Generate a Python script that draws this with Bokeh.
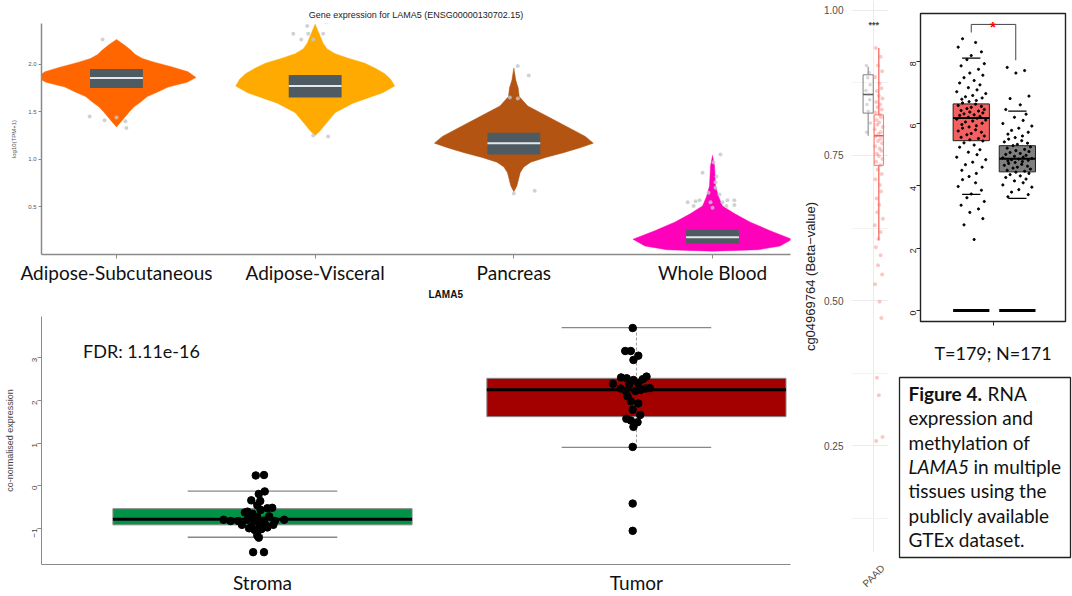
import math
from bokeh.plotting import figure
from bokeh.layouts import row, column
from bokeh.models import Range1d, FixedTicker, Label, Title
from bokeh.embed import file_html
from bokeh.resources import INLINE
from bokeh.core.properties import value

SANS = "Lato"
ARIAL = "Liberation Sans"

# ---------------- data: GTEx violins ----------------
tissues = ["Adipose-Subcutaneous", "Adipose-Visceral", "Pancreas", "Whole Blood"]
tissue_colors = ["#FF6600", "#FFAA00", "#B35412", "#FF00BB"]
violin_y = [
    [1.34, 1.40, 1.45, 1.50, 1.55, 1.60, 1.66, 1.71, 1.76, 1.81, 1.86, 1.92, 1.97, 2.02, 2.06, 2.10, 2.15, 2.20, 2.26],
    [1.25, 1.30, 1.39, 1.49, 1.59, 1.70, 1.77, 1.84, 1.90, 1.96, 2.01, 2.06, 2.11, 2.16, 2.22, 2.32, 2.42],
    [0.66, 0.72, 0.76, 0.86, 0.92, 0.97, 1.02, 1.07, 1.12, 1.17, 1.24, 1.34, 1.45, 1.56, 1.66, 1.75, 1.83, 1.96],
    [0.035, 0.05, 0.09, 0.16, 0.25, 0.34, 0.43, 0.51, 0.61, 0.72, 0.85, 0.93, 1.04],
]
violin_hw = [
    [0.0, 0.025, 0.045, 0.065, 0.087, 0.12, 0.155, 0.21, 0.26, 0.355, 0.40, 0.36, 0.28, 0.19, 0.13, 0.095, 0.07, 0.04, 0.0],
    [0.0, 0.025, 0.06, 0.10, 0.19, 0.34, 0.40, 0.38, 0.35, 0.30, 0.25, 0.17, 0.10, 0.06, 0.04, 0.02, 0.0],
    [0.0, 0.015, 0.02, 0.032, 0.05, 0.085, 0.16, 0.25, 0.33, 0.40, 0.36, 0.27, 0.17, 0.07, 0.027, 0.022, 0.01, 0.0],
    [0.0, 0.23, 0.34, 0.40, 0.29, 0.19, 0.11, 0.05, 0.03, 0.015, 0.012, 0.01, 0.0],
]
gtex_q1 = [1.75, 1.65, 1.05, 0.115]
gtex_med = [1.855, 1.77, 1.17, 0.18]
gtex_q3 = [1.95, 1.885, 1.28, 0.26]
gtex_out_tissue = [1, 1, 1, 1, 1, 1,
                   2, 2, 2, 2, 2, 2, 2, 2, 2,
                   3, 3, 3, 3, 3, 3,
                   4, 4, 4, 4, 4, 4, 4, 4, 4, 4, 4, 4, 4, 4, 4, 4, 4, 4, 4]
gtex_out_dx = [-0.07, -0.135, -0.06, 0.0, 0.045, 0.05,
               -0.11, -0.04, -0.035, -0.07, -0.01, 0.04, 0.055, -0.01, 0.065,
               0.02, 0.075, -0.02, 0.02, 0.0, 0.105,
               0.04, 0.005, -0.05, 0.02, 0.015, 0.015, -0.02, 0.035, -0.125, -0.085,
               -0.065, -0.095, -0.01, 0.05, 0.075, 0.11, 0.11, 0.07, 0.0]
gtex_out_val = [2.26, 1.45, 1.41, 1.44, 1.40, 1.33,
                2.32, 2.40, 2.32, 2.26, 2.26, 2.32, 2.44, 1.25, 1.24,
                1.98, 1.88, 1.65, 1.64, 0.64, 0.67,
                1.05, 0.97, 0.86, 0.82, 0.76, 0.70, 0.65, 0.63, 0.55, 0.56,
                0.57, 0.51, 0.55, 0.55, 0.57, 0.57, 0.52, 0.51, 0.49]
gtex_title = "Gene expression for LAMA5 (ENSG00000130702.15)"
gtex_gene = "LAMA5"

# ---------------- data: Stroma / Tumor ----------------
groups = ["Stroma", "Tumor"]
grp_colors = ["#009347", "#A30000"]
grp_q1 = [-0.92, 1.62]
grp_med = [-0.79, 2.25]
grp_q3 = [-0.54, 2.52]
grp_lo = [-1.21, 0.90]
grp_hi = [-0.13, 3.71]
stroma_dx = [-0.008, 0.014, 0.0, 0.016, -0.02, 0.004, -0.004, 0.023, 0.036, 0.005, -0.03, -0.017,
             -0.037, -0.004, 0.028, -0.094, -0.075, -0.055, -0.03, -0.011, 0.014, 0.043, 0.068,
             -0.045, -0.02, 0.001, 0.02, 0.039, -0.026, -0.011, 0.007, 0.023, -0.004, 0.0, -0.015, 0.014]
stroma_val = [0.24, 0.25, -0.195, -0.135, -0.345, -0.36, -0.46, -0.53, -0.52, -0.57, -0.61, -0.66,
              -0.63, -0.73, -0.72, -0.80, -0.83, -0.83, -0.80, -0.83, -0.82, -0.83, -0.80,
              -0.92, -0.97, -0.90, -0.94, -0.92, -1.00, -1.04, -1.02, -0.98, -1.17, -1.22, -1.56, -1.56]
tumor_dx = [0.0, -0.02, -0.005, 0.015, 0.002, -0.031, -0.016, 0.002, 0.027, 0.037, -0.053, -0.009,
            0.015, -0.032, -0.018, 0.007, 0.022, 0.035, 0.046, -0.014, -0.005, 0.015, 0.0, 0.02,
            -0.017, -0.005, 0.013, 0.002, 0.0, 0.0, 0.0]
tumor_val = [3.70, 3.16, 3.16, 3.05, 2.95, 2.54, 2.52, 2.48, 2.50, 2.56, 2.39, 2.38,
             2.40, 2.28, 2.22, 2.22, 2.25, 2.28, 2.29, 2.10, 1.98, 1.93, 1.78, 1.66,
             1.57, 1.53, 1.49, 1.38, 0.91, -0.42, -1.06]
fdr_text = "FDR: 1.11e-16"

# ---------------- data: methylation (PAAD) ----------------
meth_cats = ["PAAD"]
meth_n_box = dict(lo=0.784, q1=0.823, med=0.855, q3=0.889, hi=0.903)
meth_t_box = dict(lo=0.604, q1=0.733, med=0.784, q3=0.82, hi=0.935)
meth_t_val = [0.935, 0.92, 0.905, 0.895, 0.885, 0.874, 0.866, 0.861, 0.853, 0.848, 0.842, 0.838,
              0.833, 0.829, 0.824, 0.82, 0.816, 0.811, 0.807, 0.803, 0.799, 0.795, 0.79, 0.787,
              0.783, 0.779, 0.775, 0.771, 0.766, 0.762, 0.758, 0.753, 0.749, 0.744, 0.739, 0.733,
              0.726, 0.718, 0.709, 0.699, 0.688, 0.676, 0.665, 0.652, 0.641, 0.63, 0.618, 0.606,
              0.592, 0.578, 0.561, 0.545, 0.528, 0.498, 0.47, 0.367, 0.337, 0.265, 0.258]
meth_n_val = [0.905, 0.893, 0.884, 0.872, 0.862, 0.855, 0.846, 0.838, 0.826, 0.806, 0.79]
meth_jit = [-0.08, 0.05, -0.02, 0.09, -0.1, 0.02, 0.07, -0.05, 0.0, 0.1, -0.07, 0.04,
            -0.03, 0.08, -0.09, 0.03, 0.06, -0.06, 0.01, -0.04, 0.11, -0.11, 0.05, -0.01]
meth_sig = "***"
meth_ylabel = "cg04969764 (Beta\u2212value)"

# ---------------- data: GEPIA boxplot ----------------
gepia_label = "T=179; N=171"
gepia_t_box = dict(lo=3.73, q1=5.45, med=6.18, q3=6.63, hi=8.1)
gepia_n_box = dict(lo=3.6, q1=4.45, med=4.87, q3=5.29, hi=6.4)
gepia_t_val = [8.72, 8.6, 8.45, 8.3, 8.18, 8.05, 7.92, 7.85, 7.74, 7.62, 7.55, 7.47, 7.38, 7.3,
               7.24, 7.15, 7.08, 7.02, 6.96, 6.9, 6.86, 6.82, 6.78, 6.74, 6.7, 6.66, 6.62, 6.58,
               6.55, 6.52, 6.48, 6.45, 6.42, 6.4, 6.37, 6.34, 6.31, 6.28, 6.26, 6.23, 6.2, 6.17,
               6.14, 6.11, 6.08, 6.05, 6.01, 5.97, 5.93, 5.89, 5.85, 5.8, 5.76, 5.72, 5.68, 5.64,
               5.6, 5.56, 5.52, 5.48, 5.44, 5.38, 5.31, 5.24, 5.16, 5.08, 5.0, 4.92, 4.84, 4.76,
               4.68, 4.6, 4.5, 4.4, 4.3, 4.2, 4.1, 3.98, 3.86, 3.74, 3.62, 3.5, 3.38, 3.26, 3.15,
               2.95, 2.75, 2.28]
gepia_n_val = [7.8, 7.7, 7.62, 6.88, 6.8, 6.6, 6.45, 6.3, 6.2, 6.1, 6.0, 5.92, 5.85, 5.78, 5.72,
               5.66, 5.6, 5.55, 5.5, 5.45, 5.41, 5.37, 5.33, 5.29, 5.25, 5.21, 5.17, 5.13, 5.1,
               5.07, 5.04, 5.01, 4.98, 4.95, 4.92, 4.9, 4.88, 4.86, 4.84, 4.82, 4.8, 4.78, 4.75,
               4.72, 4.69, 4.66, 4.63, 4.6, 4.57, 4.54, 4.5, 4.47, 4.44, 4.4, 4.36, 4.32, 4.27,
               4.22, 4.16, 4.1, 4.03, 3.96, 3.88, 3.8, 3.72, 3.65]
gepia_jit = [-0.06, 0.03, -0.09, 0.07, 0.0, -0.03, 0.09, -0.07, 0.05, -0.01, 0.08, -0.05, 0.02,
             -0.08, 0.06, -0.02, 0.04, -0.1, 0.1, 0.01, -0.04, 0.075, -0.065, 0.035, -0.015]
gepia_sig = "*"

# ---------------- data: caption ----------------
caption_lines = ["Figure 4. RNA", "expression and", "methylation of", "LAMA5 in multiple",
                 "tissues using the", "publicly available", "GTEx dataset."]


def base_fig(**kw):
    p = figure(output_backend="svg", toolbar_location=None, **kw)
    p.background_fill_color = "white"
    p.border_fill_color = "white"
    p.outline_line_color = None
    p.xgrid.grid_line_color = None
    p.ygrid.grid_line_color = None
    return p


# ================= Violin panel =================
pv = base_fig(width=800, height=300, x_range=Range1d(0.6226, 4.3925), y_range=Range1d(0, 2.427),
              min_border_left=41, min_border_right=10, min_border_top=23, min_border_bottom=44)
pv.title.text = gtex_title
pv.title.align = "center"
pv.title.text_font = ARIAL
pv.title.text_font_size = "9px"
pv.title.text_font_style = "normal"
pv.title.text_color = "#222222"
pv.title.standoff = 8
for i in range(4):
    c = i + 1
    ys = violin_y[i] + violin_y[i][::-1]
    xs = [c + h for h in violin_hw[i]] + [c - h for h in violin_hw[i][::-1]]
    pv.patch(xs, ys, fill_color=tissue_colors[i], line_color=tissue_colors[i], line_width=0.5)
pv.quad(left=[c - 0.133 for c in range(1, 5)], right=[c + 0.133 for c in range(1, 5)],
        bottom=gtex_q1, top=gtex_q3, fill_color="#4E5B62", line_color=None)
pv.segment(x0=[c - 0.133 for c in range(1, 5)], x1=[c + 0.133 for c in range(1, 5)],
           y0=gtex_med, y1=gtex_med, line_color="#E4E8EA", line_width=2)
pv.scatter([t + d for t, d in zip(gtex_out_tissue, gtex_out_dx)], gtex_out_val, size=4,
           fill_color="#C4C8CC", line_color=None, fill_alpha=0.8)
pv.yaxis.ticker = FixedTicker(ticks=[0.5, 1.0, 1.5, 2.0])
pv.yaxis.major_label_overrides = {0.5: "0.5", 1.0: "1.0", 1.5: "1.5", 2.0: "2.0"}
pv.yaxis.major_label_text_font = ARIAL
pv.yaxis.major_label_text_font_size = "6px"
pv.yaxis.major_label_text_color = "#555555"
pv.yaxis.axis_label = "log10(TPM+1)"
pv.yaxis.axis_label_text_font = ARIAL
pv.yaxis.axis_label_text_font_size = "6px"
pv.yaxis.axis_label_text_font_style = "normal"
pv.yaxis.axis_label_text_color = "#555555"
pv.yaxis.axis_label_standoff = 8
pv.yaxis.axis_line_color = "#8A8A8A"
pv.yaxis.axis_line_width = 1.5
pv.yaxis.major_tick_line_color = "#8A8A8A"
pv.yaxis.major_tick_out = 3
pv.yaxis.major_tick_in = 0
pv.yaxis.minor_tick_line_color = None
pv.yaxis.major_label_standoff = 2
pv.xaxis.ticker = FixedTicker(ticks=[1, 2, 3, 4])
pv.xaxis.major_label_overrides = {i + 1: t for i, t in enumerate(tissues)}
pv.xaxis.major_label_text_font = SANS
pv.xaxis.major_label_text_font_size = "19px"
pv.xaxis.major_label_text_color = "#111111"
pv.xaxis.axis_line_color = "#8A8A8A"
pv.xaxis.axis_line_width = 1.5
pv.xaxis.major_tick_line_color = "#8A8A8A"
pv.xaxis.major_tick_out = 4
pv.xaxis.major_tick_in = 0
pv.xaxis.minor_tick_line_color = None
pv.xaxis.major_label_standoff = 2
pv.add_layout(Title(text=gtex_gene, align="left", offset=387, text_font=ARIAL, text_font_size="10px",
                    text_font_style="bold", text_color="#111111", standoff=1), "below")

# ================= Stroma / Tumor panel =================
pb = base_fig(width=800, height=296, x_range=Range1d(0.409, 2.412), y_range=Range1d(-1.85, 3.97),
              min_border_left=41, min_border_right=10, min_border_top=16, min_border_bottom=21)
gx = [1, 2]
pb.segment(x0=gx, x1=gx, y0=grp_hi, y1=grp_q3, line_color="#9A9A9A", line_dash="3 2", line_width=1)
pb.segment(x0=gx, x1=gx, y0=grp_lo, y1=grp_q1, line_color="#9A9A9A", line_dash="3 2", line_width=1)
pb.segment(x0=[x - 0.2 for x in gx], x1=[x + 0.2 for x in gx], y0=grp_hi, y1=grp_hi,
           line_color="#888888", line_width=1.3)
pb.segment(x0=[x - 0.2 for x in gx], x1=[x + 0.2 for x in gx], y0=grp_lo, y1=grp_lo,
           line_color="#888888", line_width=1.3)
pb.quad(left=[x - 0.4 for x in gx], right=[x + 0.4 for x in gx], bottom=grp_q1, top=grp_q3,
        fill_color=grp_colors, line_color="#8A8A8A", line_width=1)
pb.segment(x0=[x - 0.4 for x in gx], x1=[x + 0.4 for x in gx], y0=grp_med, y1=grp_med,
           line_color="black", line_width=3)
pb.scatter([0.99 + d for d in stroma_dx], stroma_val, size=7.5, color="black")
pb.scatter([1.99 + d for d in tumor_dx], tumor_val, size=7.5, color="black")
pb.add_layout(Label(x=0.52, y=3.15, text=fdr_text, text_font=SANS, text_font_size="18px",
                    text_baseline="middle", text_color="#111111"))
pb.yaxis.ticker = FixedTicker(ticks=[-1, 0, 1, 2, 3])
pb.yaxis.major_label_orientation = math.pi / 2
pb.yaxis.major_label_text_font = ARIAL
pb.yaxis.major_label_text_font_size = "8px"
pb.yaxis.major_label_text_color = "#444444"
pb.yaxis.axis_line_color = "#8A8A8A"
pb.yaxis.major_tick_line_color = "#8A8A8A"
pb.yaxis.major_tick_out = 4
pb.yaxis.major_tick_in = 0
pb.yaxis.minor_tick_line_color = None
pb.yaxis.major_label_standoff = 3
pb.yaxis.axis_label = "co-normalised expression"
pb.yaxis.axis_label_text_font = ARIAL
pb.yaxis.axis_label_text_font_size = "9px"
pb.yaxis.axis_label_text_font_style = "normal"
pb.yaxis.axis_label_text_color = "#444444"
pb.yaxis.axis_label_standoff = 12
pb.xaxis.ticker = FixedTicker(ticks=gx)
pb.xaxis.major_label_overrides = {1: groups[0], 2: groups[1]}
pb.xaxis.major_label_text_font = SANS
pb.xaxis.major_label_text_font_size = "19px"
pb.xaxis.major_label_text_color = "#111111"
pb.xaxis.axis_line_color = "#8A8A8A"
pb.xaxis.axis_line_width = 1.2
pb.xaxis.major_tick_line_color = None
pb.xaxis.minor_tick_line_color = None
pb.xaxis.major_label_standoff = 0

# ================= Methylation panel =================
pm = base_fig(width=92, height=596, x_range=Range1d(0.4, 1.4), y_range=Range1d(0.066, 1.017),
              min_border_left=48, min_border_right=4, min_border_top=0, min_border_bottom=38)
pm.ygrid.ticker = FixedTicker(ticks=[0.25, 0.5, 0.75, 1.0], minor_ticks=[0.125, 0.375, 0.625, 0.875])
pm.ygrid.grid_line_color = "#EBEBEB"
pm.ygrid.minor_grid_line_color = "#F3F3F3"
pm.xgrid.ticker = FixedTicker(ticks=[1.0])
pm.xgrid.grid_line_color = "#EBEBEB"
nx, nw = 0.85, 0.275
tx, tw = 1.1375, 0.25
pm.segment(x0=[nx, nx], x1=[nx, nx], y0=[meth_n_box["lo"], meth_n_box["q3"]],
           y1=[meth_n_box["q1"], meth_n_box["hi"]], line_color="#7F7F7F", line_width=1)
pm.quad(left=nx - nw / 2, right=nx + nw / 2, bottom=meth_n_box["q1"], top=meth_n_box["q3"],
        fill_color="white", fill_alpha=0.0, line_color="#7F7F7F", line_width=1)
pm.segment(x0=nx - nw / 2, x1=nx + nw / 2, y0=meth_n_box["med"], y1=meth_n_box["med"],
           line_color="#5A5A5A", line_width=1.6)
pm.scatter([nx + meth_jit[i % len(meth_jit)] * 0.6 for i in range(len(meth_n_val))], meth_n_val,
           size=3.5, fill_color="#9A9A9A", line_color=None, fill_alpha=0.4)
pm.segment(x0=[tx, tx], x1=[tx, tx], y0=[meth_t_box["lo"], meth_t_box["q3"]],
           y1=[meth_t_box["q1"], meth_t_box["hi"]], line_color="#F8766D", line_width=1.4)
pm.quad(left=tx - tw / 2, right=tx + tw / 2, bottom=meth_t_box["q1"], top=meth_t_box["q3"],
        fill_color="white", fill_alpha=0.0, line_color="#F8766D", line_width=1)
pm.segment(x0=tx - tw / 2, x1=tx + tw / 2, y0=meth_t_box["med"], y1=meth_t_box["med"],
           line_color="#E8504A", line_width=1.6)
pm.scatter([tx + meth_jit[i % len(meth_jit)] for i in range(len(meth_t_val))], meth_t_val,
           size=4, fill_color="#F8766D", line_color=None, fill_alpha=0.4)
pm.add_layout(Label(x=1.0, y=0.975, text=meth_sig, text_font=ARIAL, text_font_size="9px",
                    text_font_style="bold", text_align="center", text_baseline="middle"))
pm.yaxis.ticker = FixedTicker(ticks=[0.25, 0.5, 0.75, 1.0])
pm.yaxis.major_label_overrides = {0.25: "0.25", 0.5: "0.50", 0.75: "0.75", 1.0: "1.00"}
pm.yaxis.major_label_text_font = ARIAL
pm.yaxis.major_label_text_font_size = "10px"
pm.yaxis.major_label_text_color = "#4D4D4D"
pm.yaxis.axis_line_color = None
pm.yaxis.major_tick_line_color = None
pm.yaxis.minor_tick_line_color = None
pm.yaxis.major_label_standoff = 2
pm.yaxis.axis_label = meth_ylabel
pm.yaxis.axis_label_text_font = ARIAL
pm.yaxis.axis_label_text_font_size = "13px"
pm.yaxis.axis_label_text_font_style = "normal"
pm.yaxis.axis_label_text_color = "#222222"
pm.yaxis.axis_label_standoff = 3
pm.xaxis.ticker = FixedTicker(ticks=[1.25])
pm.xaxis.major_label_overrides = {1.25: meth_cats[0]}
pm.xaxis.major_label_orientation = math.pi / 4
pm.xaxis.major_label_text_font = ARIAL
pm.xaxis.major_label_text_font_size = "10px"
pm.xaxis.major_label_text_color = "#4D4D4D"
pm.xaxis.axis_line_color = None
pm.xaxis.major_tick_line_color = None
pm.xaxis.minor_tick_line_color = None
pm.xaxis.major_label_standoff = 8

# ================= GEPIA panel =================
pg = base_fig(width=180, height=366, x_range=Range1d(0.5, 1.5), y_range=Range1d(-0.35, 9.53),
              min_border_left=28, min_border_right=7, min_border_top=13, min_border_bottom=43)
pg.outline_line_color = "#222222"
pg.outline_line_width = 1.4
gtx, gnx, gbw, gcw = 0.85, 1.168, 0.25, 0.126
for cx, bx, col in [(gtx, gepia_t_box, "#F4605F"), (gnx, gepia_n_box, "#7F7F7F")]:
    pg.quad(left=cx - gbw / 2, right=cx + gbw / 2, bottom=bx["q1"], top=bx["q3"],
            fill_color=col, line_color="#222222", line_width=1)
    pg.segment(x0=cx - gbw / 2, x1=cx + gbw / 2, y0=bx["med"], y1=bx["med"],
               line_color="black", line_width=2)
    pg.segment(x0=[cx - gcw / 2] * 2, x1=[cx + gcw / 2] * 2, y0=[bx["lo"], bx["hi"]],
               y1=[bx["lo"], bx["hi"]], line_color="black", line_width=1.2)
    pg.segment(x0=cx - gbw / 2, x1=cx + gbw / 2, y0=0, y1=0, line_color="black", line_width=3)
pg.scatter([gtx + gepia_jit[i % len(gepia_jit)] for i in range(len(gepia_t_val))], gepia_t_val,
           size=2.2, color="black")
pg.scatter([gnx + gepia_jit[(i + 7) % len(gepia_jit)] for i in range(len(gepia_n_val))], gepia_n_val,
           size=2.2, color="black")
pg.multi_line(xs=[[gtx, gtx, gnx - 0.011, gnx - 0.011]], ys=[[8.92, 9.18, 9.18, 8.03]],
              line_color="#444444", line_width=1)
pg.add_layout(Label(x=1.0, y=9.1, text=gepia_sig, text_font=ARIAL, text_font_size="15px",
                    text_font_style="bold", text_align="center", text_baseline="middle",
                    text_color="#FF0000"))
pg.yaxis.ticker = FixedTicker(ticks=[0, 2, 4, 6, 8])
pg.yaxis.major_label_orientation = math.pi / 2
pg.yaxis.major_label_text_font = ARIAL
pg.yaxis.major_label_text_font_size = "9px"
pg.yaxis.major_label_text_color = "#222222"
pg.yaxis.axis_line_color = None
pg.yaxis.major_tick_line_color = "#222222"
pg.yaxis.major_tick_out = 4
pg.yaxis.major_tick_in = 0
pg.yaxis.minor_tick_line_color = None
pg.yaxis.major_label_standoff = 3
pg.xaxis.ticker = FixedTicker(ticks=[1.0])
pg.xaxis.major_label_overrides = {1.0: gepia_label}
pg.xaxis.major_label_text_font = SANS
pg.xaxis.major_label_text_font_size = "18px"
pg.xaxis.major_label_text_color = "#111111"
pg.xaxis.axis_line_color = None
pg.xaxis.major_tick_line_color = "#222222"
pg.xaxis.major_tick_out = 4
pg.xaxis.major_tick_in = 0
pg.xaxis.minor_tick_line_color = None
pg.xaxis.major_label_standoff = 16

# ================= Caption panel =================
pc = base_fig(width=180, height=230, x_range=Range1d(0, 171), y_range=Range1d(180, 0),
              min_border_left=7, min_border_right=2, min_border_top=11, min_border_bottom=39,
              x_axis_location=None, y_axis_location=None)
pc.outline_line_color = "#222222"
pc.outline_line_width = 1.3
line_y = [16 + 24.3 * i for i in range(len(caption_lines))]
first_bold, first_rest = caption_lines[0][:9], caption_lines[0][10:]
ital, ital_rest = caption_lines[3][:5], caption_lines[3][6:]
plain_idx = [1, 2, 4, 5, 6]
common = dict(text_font=value(SANS), text_font_size="19px", text_baseline="middle",
              text_color="#111111")
pc.text(x=[9] * len(plain_idx), y=[line_y[i] for i in plain_idx],
        text=[caption_lines[i] for i in plain_idx], **common)
pc.text(x=[9], y=[line_y[0]], text=[first_bold], text_font_style="bold", **common)
pc.text(x=[88], y=[line_y[0]], text=[first_rest], **common)
pc.text(x=[9], y=[line_y[3]], text=[ital], text_font_style="italic", **common)
pc.text(x=[74], y=[line_y[3]], text=[ital_rest], **common)

layout = row(column(pv, pb), pm, column(pg, row(pc)))
open("out.html", "w").write(file_html(layout, INLINE))
